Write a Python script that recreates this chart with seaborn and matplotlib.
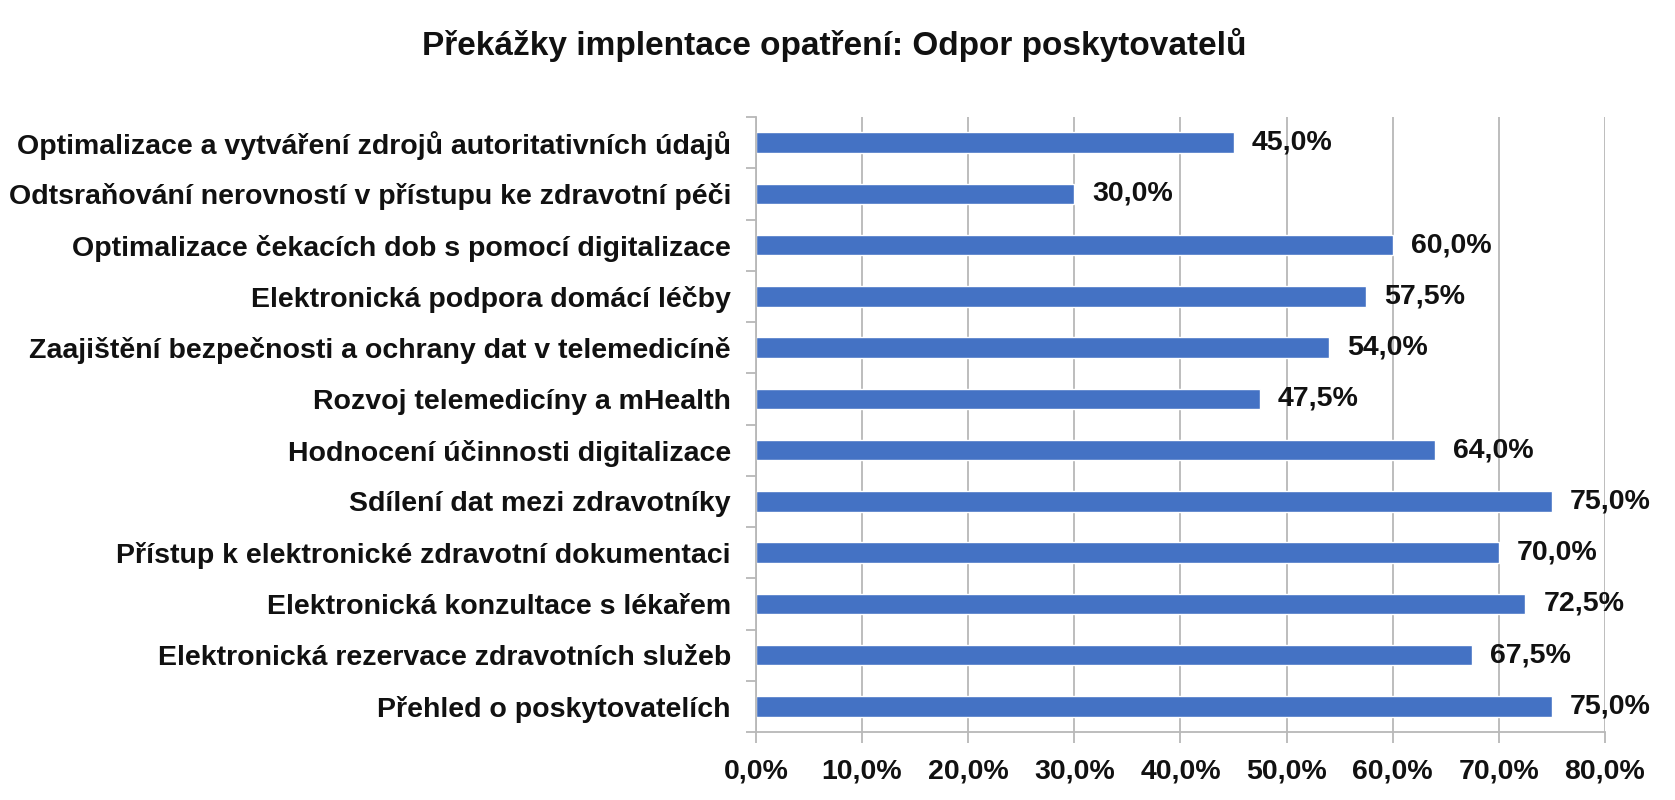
import pandas as pd
import matplotlib.pyplot as plt
import seaborn as sns
from matplotlib.ticker import FixedLocator, FuncFormatter

# Data grafu
kategorie = [
    "Optimalizace a vytváření zdrojů autoritativních údajů",
    "Odtsraňování nerovností v přístupu ke zdravotní péči",
    "Optimalizace čekacích dob s pomocí digitalizace",
    "Elektronická podpora domácí léčby",
    "Zaajištění bezpečnosti a ochrany dat v telemedicíně",
    "Rozvoj telemedicíny a mHealth",
    "Hodnocení účinnosti digitalizace",
    "Sdílení dat mezi zdravotníky",
    "Přístup k elektronické zdravotní dokumentaci",
    "Elektronická konzultace s lékařem",
    "Elektronická rezervace zdravotních služeb",
    "Přehled o poskytovatelích",
]
hodnoty = [45.0, 30.0, 60.0, 57.5, 54.0, 47.5, 64.0, 75.0, 70.0, 72.5, 67.5, 75.0]
x_ticky = [0, 10, 20, 30, 40, 50, 60, 70, 80]

df = pd.DataFrame({"Opatření": kategorie, "Podíl": hodnoty})

sns.set_theme(style="white")
plt.rcParams['font.family'] = ['Liberation Sans', 'DejaVu Sans']

fig = plt.figure(figsize=(16.75, 8), dpi=100)
ax = fig.add_axes([0.4513, 0.085, 0.9582 - 0.4513, 0.85375 - 0.085])

sns.barplot(data=df, x="Podíl", y="Opatření", color="#4472C4", width=0.4,
            saturation=1, orient="h", ax=ax)

ax.set_xlim(0, 80)
ax.set_ylim(len(kategorie) - 0.5, -0.5)
ax.xaxis.set_major_locator(FixedLocator(x_ticky))
ax.xaxis.set_major_formatter(FuncFormatter(lambda v, p: f"{v:.1f}%".replace(".", ",")))
ax.grid(axis="x", color="#b8b8b8", linewidth=1.3)
ax.set_axisbelow(True)

for s in ["top", "right"]:
    ax.spines[s].set_visible(False)
for s in ["left", "bottom"]:
    ax.spines[s].set_color("#b8b8b8")
    ax.spines[s].set_linewidth(1.3)

# Značky mezi kategoriemi jako v Excelu
ax.yaxis.set_minor_locator(FixedLocator([i - 0.5 for i in range(len(kategorie) + 1)]))
ax.tick_params(axis="y", which="major", length=0, pad=18, labelsize=20.5)
ax.tick_params(axis="y", which="minor", left=True, length=7, width=1.3, color="#b8b8b8")
ax.tick_params(axis="x", which="major", bottom=True, length=8, width=1.3, color="#b8b8b8",
               pad=11, labelsize=20.5)
for lab in ax.get_yticklabels() + ax.get_xticklabels():
    lab.set_fontweight("bold")
    lab.set_color("#111111")

ax.set_xlabel("")
ax.set_ylabel("")

# Popisky hodnot
for i, v in enumerate(hodnoty):
    ax.annotate(f"{v:.1f}%".replace(".", ","), (v, i), xytext=(13, 0),
                textcoords="offset points", ha="left", va="center",
                fontsize=20.5, fontweight="bold", color="#111111")

fig.text(0.498, 0.944, "Překážky implentace opatření: Odpor poskytovatelů",
         ha="center", va="center", fontsize=24, fontweight="bold", color="#111111")

fig.savefig("out.png", dpi=100)
